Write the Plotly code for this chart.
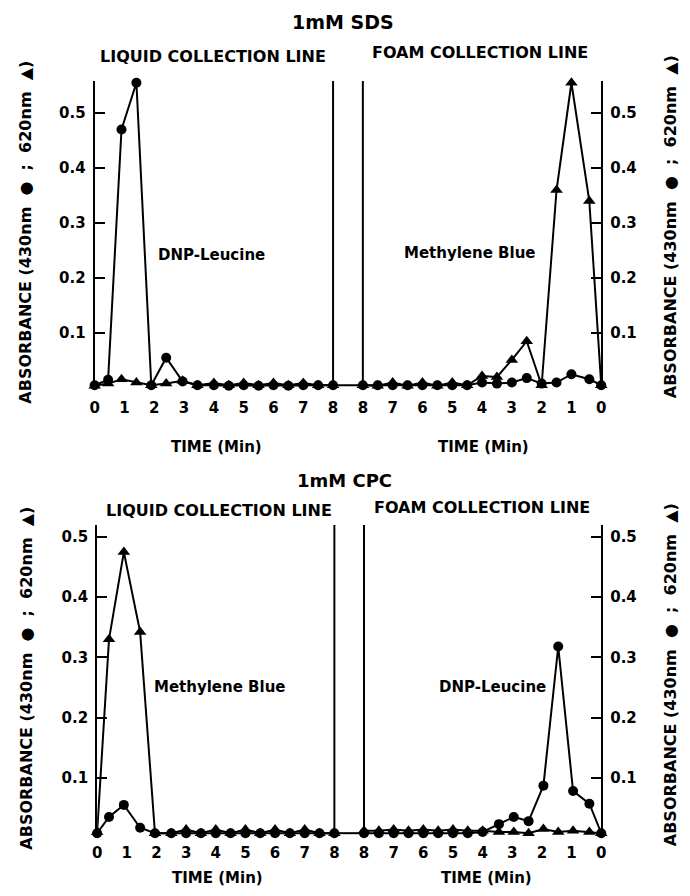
import plotly.graph_objects as go

W, H = 690, 896

# ---------------- data (absorbance vs time, min) ----------------
# 1mM SDS, liquid collection line (time increasing 0 -> 8)
sds_liq_time = [0, 0.45, 0.9, 1.4, 1.9, 2.4, 2.95, 3.45, 4, 4.5, 5, 5.5, 6, 6.5, 7, 7.5, 8]
sds_liq_430 = [0.005, 0.015, 0.47, 0.555, 0.005, 0.055, 0.012, 0.005, 0.005, 0.004, 0.005,
               0.004, 0.005, 0.004, 0.005, 0.005, 0.005]
sds_liq_620 = [0.004, 0.008, 0.016, 0.010, 0.005, 0.008, 0.013, 0.005, 0.009, 0.005, 0.009,
               0.005, 0.009, 0.005, 0.009, 0.005, 0.005]
# 1mM SDS, foam collection line (time decreasing 8 -> 0)
sds_foam_time = [8, 7.5, 7, 6.5, 6, 5.5, 5, 4.5, 4, 3.5, 3, 2.5, 2, 1.5, 1, 0.4, 0]
sds_foam_430 = [0.005, 0.005, 0.005, 0.005, 0.005, 0.005, 0.005, 0.005, 0.010, 0.008, 0.010,
                0.018, 0.008, 0.010, 0.025, 0.016, 0.005]
sds_foam_620 = [0.005, 0.004, 0.010, 0.004, 0.010, 0.004, 0.010, 0.005, 0.022, 0.020, 0.051,
                0.085, 0.005, 0.360, 0.555, 0.340, 0.005]

# 1mM CPC, liquid collection line
cpc_liq_time = [0, 0.4, 0.9, 1.45, 1.95, 2.5, 3, 3.5, 4, 4.5, 5, 5.5, 6, 6.5, 7, 7.5, 8]
cpc_liq_430 = [0.008, 0.035, 0.055, 0.017, 0.008, 0.008, 0.008, 0.008, 0.008, 0.008, 0.008,
               0.008, 0.008, 0.008, 0.008, 0.008, 0.008]
cpc_liq_620 = [0.010, 0.330, 0.475, 0.342, 0.008, 0.008, 0.014, 0.008, 0.014, 0.008, 0.014,
               0.008, 0.014, 0.008, 0.014, 0.008, 0.008]
# 1mM CPC, foam collection line
cpc_foam_time = [8, 7.5, 7, 6.5, 6, 5.5, 5, 4.5, 4, 3.45, 2.95, 2.45, 1.95, 1.45, 0.95, 0.4, 0]
cpc_foam_430 = [0.008, 0.008, 0.008, 0.008, 0.008, 0.008, 0.008, 0.008, 0.010, 0.023, 0.035,
                0.028, 0.087, 0.318, 0.078, 0.057, 0.008]
cpc_foam_620 = [0.012, 0.012, 0.014, 0.012, 0.014, 0.012, 0.014, 0.012, 0.012, 0.010, 0.010,
                0.008, 0.015, 0.010, 0.012, 0.010, 0.008]

time_ticks = [0, 1, 2, 3, 4, 5, 6, 7, 8]
abs_ticks = [0.1, 0.2, 0.3, 0.4, 0.5]
abs_tick_labels = ["0.1", "0.2", "0.3", "0.4", "0.5"]

panel_titles = ["1mM SDS", "1mM CPC"]
line_titles = ["LIQUID COLLECTION LINE", "FOAM COLLECTION LINE"]
compound_labels = [["DNP-Leucine", "Methylene Blue"], ["Methylene Blue", "DNP-Leucine"]]
x_title = "TIME (Min)"
y_title = "ABSORBANCE (430nm  \u25CF  ;  620nm  \u25B2)"

# ---------------- helpers ----------------
LIQ_END = 8
GAP = 1
FOAM_ORIGIN = LIQ_END + GAP + 8  # foam time 0 sits here on the shared row axis


def foam_x(ts):
    return [FOAM_ORIGIN - t for t in ts]


def px(x):
    return x / W


def py(y):
    return 1 - y / H


FONT = "DejaVu Sans"
fig = go.Figure()

rows = [
    dict(xa="x", yl="y", yr="y2", lt=sds_liq_time, ft=sds_foam_time,
         lc=sds_liq_430, ltr=sds_liq_620, fc=sds_foam_430, ftr=sds_foam_620),
    dict(xa="x2", yl="y3", yr="y4", lt=cpc_liq_time, ft=cpc_foam_time,
         lc=cpc_liq_430, ltr=cpc_liq_620, fc=cpc_foam_430, ftr=cpc_foam_620),
]

LINE = dict(color="black", width=2)
TRI = dict(symbol="triangle-up", size=11, color="black")
CIRC = dict(symbol="circle", size=10, color="black")

for r in rows:
    # connector along the baseline between the two collection lines
    fig.add_trace(go.Scatter(x=[r["lt"][-1], foam_x(r["ft"][:1])[0]], y=[r["lc"][-1], r["fc"][0]],
                             mode="lines", xaxis=r["xa"], yaxis=r["yl"], line=LINE,
                             cliponaxis=False, showlegend=False, hoverinfo="skip"))
    for xs, ys, ya, mk in [
        (r["lt"], r["ltr"], r["yl"], TRI), (r["lt"], r["lc"], r["yl"], CIRC),
        (foam_x(r["ft"]), r["ftr"], r["yr"], TRI), (foam_x(r["ft"]), r["fc"], r["yr"], CIRC),
    ]:
        fig.add_trace(go.Scatter(x=xs, y=ys, mode="lines+markers", xaxis=r["xa"], yaxis=ya,
                                 line=LINE, marker=mk, cliponaxis=False, showlegend=False))

tickvals = time_ticks + foam_x(time_ticks)
ticktext = [str(t) for t in time_ticks] * 2

xcommon = dict(range=[0, FOAM_ORIGIN], showgrid=False, zeroline=False, showline=False,
               tickmode="array", tickvals=tickvals, ticktext=ticktext, ticks="",
               tickfont=dict(family=FONT, size=15, color="black", weight="bold"))
ycommon = dict(showgrid=False, zeroline=False, showline=True, linecolor="black", linewidth=2,
               ticks="inside", ticklen=10, tickwidth=2, tickcolor="black",
               tickmode="array", tickvals=abs_ticks, ticktext=abs_tick_labels,
               tickfont=dict(family=FONT, size=15, color="black", weight="bold"),
               ticklabelstandoff=4)

top_dom = [py(388), py(81)]
bot_dom = [py(838), py(525)]
top_rng = [0, (388 - 81) / 550]
bot_rng = [0, (838 - 525) / 602]

fig.update_layout(
    width=W, height=H, margin=dict(l=0, r=0, t=0, b=0),
    paper_bgcolor="white", plot_bgcolor="white",
    xaxis=dict(domain=[px(91), px(605)], anchor="y", ticklabelstandoff=9, **xcommon),
    xaxis2=dict(domain=[px(93.5), px(605)], anchor="y3", ticklabelstandoff=4, **xcommon),
    yaxis=dict(domain=top_dom, range=top_rng, anchor="x", side="left", **ycommon),
    yaxis2=dict(range=top_rng, anchor="x", overlaying="y", side="right", **ycommon),
    yaxis3=dict(domain=bot_dom, range=bot_rng, anchor="x2", side="left", **ycommon),
    yaxis4=dict(range=bot_rng, anchor="x2", overlaying="y3", side="right", **ycommon),
)

# vertical lines ending the liquid line and starting the foam line
for xa, yd in [("x", "y domain"), ("x2", "y3 domain")]:
    for xv in [LIQ_END, LIQ_END + GAP]:
        fig.add_shape(type="line", xref=xa, yref=yd, x0=xv, x1=xv, y0=0, y1=1,
                      line=dict(color="black", width=2))

ann = []


def add_text(text, x, y, size, bold=True, angle=0):
    ann.append(dict(text=text, x=px(x), y=py(y), xref="paper", yref="paper",
                    showarrow=False, xanchor="center", yanchor="middle", textangle=angle,
                    font=dict(family=FONT, size=size, color="black",
                              weight="bold" if bold else "normal")))


# panel titles
add_text(panel_titles[0], 343, 22, 19)
add_text(panel_titles[1], 344, 481, 18)
# collection line headers
add_text(line_titles[0], 211, 57, 16)
add_text(line_titles[1], 482, 53, 16)
add_text(line_titles[0], 217, 510, 16)
add_text(line_titles[1], 484, 507, 16)
# compound labels
add_text(compound_labels[0][0], 210, 255, 15)
add_text(compound_labels[0][1], 472, 253, 15)
add_text(compound_labels[1][0], 218, 687, 15)
add_text(compound_labels[1][1], 495, 687, 15)
# time axis titles
add_text(x_title, 215, 447, 15)
add_text(x_title, 486, 447, 15)
add_text(x_title, 216, 878, 15)
add_text(x_title, 489, 878, 15)
# absorbance axis titles
add_text(y_title, 21, 232, 16, angle=-90)
add_text(y_title, 675, 227, 16, angle=-90)
add_text(y_title, 21, 678, 16, angle=-90)
add_text(y_title, 675, 675, 16, angle=-90)

fig.update_layout(annotations=ann)
fig.write_html("out.html", config={"displayModeBar": False},
               post_script="document.body.style.margin='0';document.body.style.overflow='hidden';")
